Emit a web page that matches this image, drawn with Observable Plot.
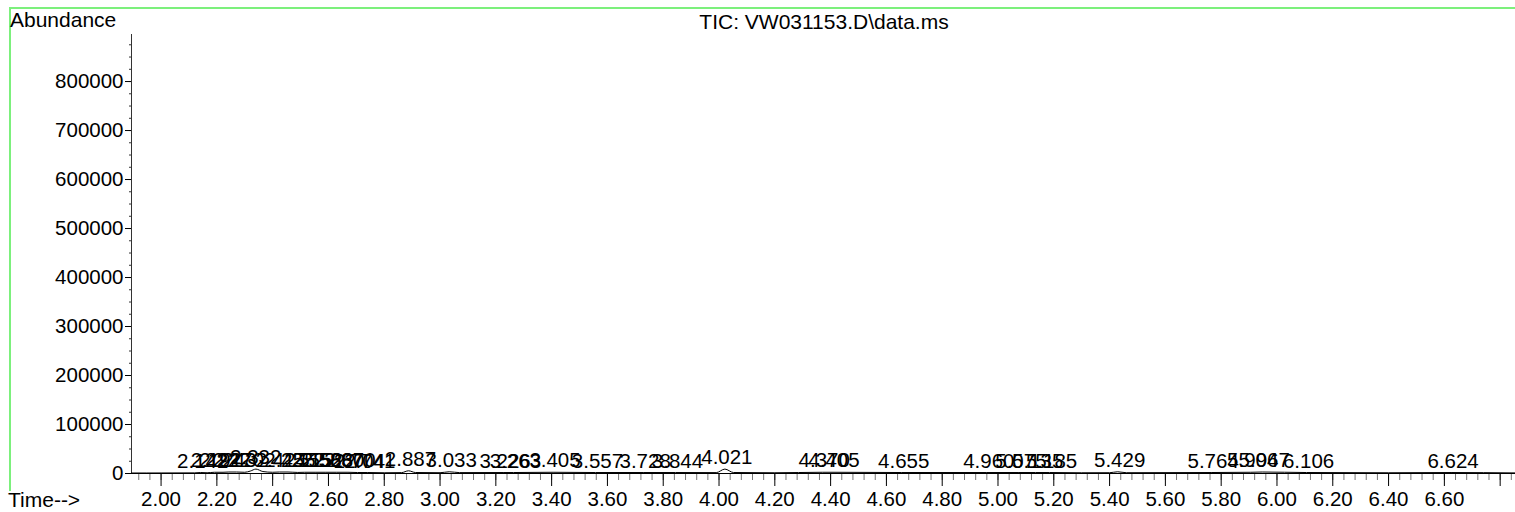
<!DOCTYPE html>
<html><head><meta charset="utf-8">
<script src="https://cdn.jsdelivr.net/npm/d3@7"></script>
<script src="https://cdn.jsdelivr.net/npm/@observablehq/plot@0.6"></script>
<style>
html,body{margin:0;padding:0;background:#fff;}
#wrap{position:relative;width:1515px;height:512px;overflow:hidden;font-family:"Liberation Sans",Arial,sans-serif;}
#chart{position:absolute;left:0;top:0;}
.lbl{position:absolute;font-size:21px;line-height:21px;color:#000;white-space:nowrap;}
#frame{position:absolute;left:9px;top:7px;width:1510px;height:484px;border-left:2px solid #7cf07c;border-top:2px solid #7cf07c;box-sizing:border-box;}
</style></head><body>
<div id="wrap">
<div id="chart"></div>
<div id="frame"></div>
<div class="lbl" style="left:10px;top:9px">Abundance</div>
<div class="lbl" style="left:824px;top:10.5px;transform:translateX(-50%)">TIC: VW031153.D\data.ms</div>
<div class="lbl" style="left:8px;top:489px">Time--&gt;</div>
</div>
<script>
// Peak annotations (retention time, apex abundance)
const peakTimes = [2.142, 2.191, 2.222, 2.243, 2.270, 2.332, 2.424, 2.455, 2.515, 2.552, 2.588, 2.630, 2.670, 2.704, 2.741, 2.887, 3.033, 3.226, 3.263, 3.405, 3.557, 3.728, 3.844, 4.021, 4.370, 4.405, 4.655, 4.960, 5.075, 5.135, 5.185, 5.429, 5.764, 5.906, 5.947, 6.106, 6.624];
const peakAbundance = [2000, 2500, 2500, 3000, 3000, 9000, 3000, 3000, 2500, 2500, 2500, 2500, 2500, 2000, 2000, 5500, 3500, 2000, 2000, 2500, 2000, 2000, 2000, 9000, 2500, 2500, 2000, 2000, 2000, 2000, 2000, 3500, 2000, 2500, 3000, 2000, 2000];

// TIC trace points
const traceTime = [1.894, 2.000, 2.120, 2.142, 2.165, 2.191, 2.222, 2.243, 2.270, 2.300, 2.320, 2.340, 2.365, 2.400, 2.424, 2.455, 2.490, 2.515, 2.552, 2.588, 2.630, 2.670, 2.704, 2.741, 2.800, 2.862, 2.887, 2.912, 3.000, 3.033, 3.070, 3.226, 3.263, 3.405, 3.557, 3.728, 3.844, 3.990, 4.021, 4.052, 4.200, 4.370, 4.405, 4.655, 4.960, 5.075, 5.135, 5.185, 5.300, 5.400, 5.429, 5.460, 5.764, 5.906, 5.947, 6.106, 6.400, 6.624, 6.855];
const traceAbundance = [1000, 1100, 1300, 2000, 1500, 2500, 2500, 3000, 3000, 2500, 5000, 9000, 4000, 2500, 3000, 3000, 2200, 2500, 2500, 2500, 2500, 2500, 2000, 2000, 1500, 1800, 5500, 2000, 1600, 3500, 1800, 2000, 2000, 2500, 2000, 2000, 2000, 1800, 9000, 2000, 1500, 2500, 2500, 2000, 2000, 2000, 2000, 2000, 1500, 1600, 3500, 1600, 2000, 2500, 3000, 2000, 1500, 2000, 1200];

// Axis ticks
const xMajorTicks = [2.0, 2.2, 2.4, 2.6, 2.8, 3.0, 3.2, 3.4, 3.6, 3.8, 4.0, 4.2, 4.4, 4.6, 4.8, 5.0, 5.2, 5.4, 5.6, 5.8, 6.0, 6.2, 6.4, 6.6, 6.8];
const xTickLabels = ["2.00", "2.20", "2.40", "2.60", "2.80", "3.00", "3.20", "3.40", "3.60", "3.80", "4.00", "4.20", "4.40", "4.60", "4.80", "5.00", "5.20", "5.40", "5.60", "5.80", "6.00", "6.20", "6.40", "6.60", ""];
const yMajorTicks = [0, 100000, 200000, 300000, 400000, 500000, 600000, 700000, 800000];
const yTickLabels = ["0", "100000", "200000", "300000", "400000", "500000", "600000", "700000", "800000"];

const xMinorTicks = d3.range(48, 172).map(k => +(k * 0.04).toFixed(2));
const yMinorTicks = d3.range(0, 36).map(k => k * 25000);

const xLabelMap = new Map(xMajorTicks.map((v, i) => [v, xTickLabels[i]]));
const yLabelMap = new Map(yMajorTicks.map((v, i) => [v, yTickLabels[i]]));

const trace = traceTime.map((t, i) => ({t, a: traceAbundance[i]}));
const peaks = peakTimes.map((t, i) => ({t, a: peakAbundance[i], label: d3.format(".3f")(t)}));

const FS = 20.5;
const plot = Plot.plot({
  width: 1515,
  height: 512,
  marginLeft: 131,
  marginRight: 0,
  marginTop: 34,
  marginBottom: 39,
  style: {fontFamily: "'Liberation Sans', Arial, sans-serif", fontSize: FS + "px", background: "transparent", color: "#000"},
  x: {domain: [1.894, 6.855]},
  y: {domain: [0, 896000]},
  marks: [
    Plot.axisY({ticks: yMinorTicks, tickSize: 2, tickFormat: () => "", label: null, stroke: "#333"}),
    Plot.axisY({ticks: yMajorTicks, tickSize: 6, tickPadding: 2, tickFormat: d => yLabelMap.get(d) ?? "", label: null, fontSize: FS, stroke: "#000"}),
    Plot.axisX({ticks: xMinorTicks, tickSize: 7, tickFormat: () => "", label: null, stroke: "#777"}),
    Plot.axisX({ticks: xMajorTicks, tickSize: 13, tickPadding: 5, tickFormat: d => xLabelMap.get(d) ?? "", label: null, fontSize: FS, stroke: "#000"}),
    Plot.ruleX([1.894], {stroke: "#333"}),
    Plot.ruleY([0], {stroke: "#000"}),
    Plot.line(trace, {x: "t", y: "a", curve: "monotone-x", stroke: "#000", strokeWidth: 1}),
    Plot.text(peaks, {x: "t", y: "a", text: "label", dx: 2, dy: -5, lineAnchor: "bottom", textAnchor: "middle", fontSize: FS, fill: "#000"})
  ]
});
document.getElementById("chart").appendChild(plot);
</script>
</body></html>
